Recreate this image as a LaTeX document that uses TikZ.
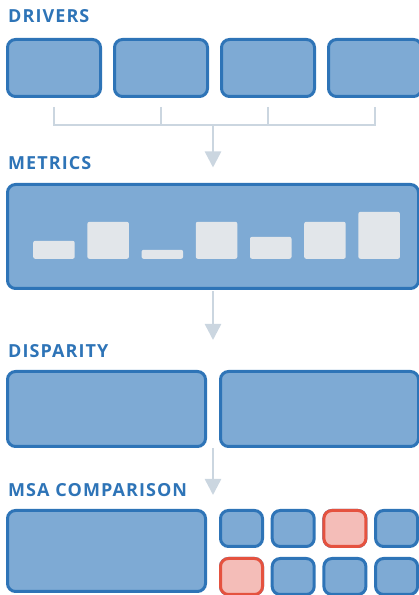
\documentclass[tikz,border=0pt]{standalone}
\usepackage{fontspec}
\usepackage{xcolor}
\usepackage{tikz}
\usetikzlibrary{arrows.meta,calc}
\newfontfamily\headfont{Open Sans}[LetterSpace=6]

\definecolor{blueline}{HTML}{2E74B7}
\definecolor{bluefill}{HTML}{7EAAD4}
\definecolor{redline}{HTML}{E5523F}
\definecolor{redfill}{HTML}{F4BDB8}
\definecolor{barfill}{HTML}{E2E6EA}
\definecolor{linkgray}{HTML}{CBD6E0}

\tikzset{
  box/.style={draw=blueline, fill=bluefill, line width=3pt, rounded corners=8pt, inner sep=0pt},
  hotbox/.style={box, draw=redline, fill=redfill},
  bar/.style={fill=barfill, rounded corners=2pt, inner sep=0pt, minimum width=41.5pt, anchor=south west},
  title/.style={anchor=base west, inner sep=0pt, text=blueline, font=\headfont\bfseries\fontsize{18}{20}\selectfont},
  link/.style={draw=linkgray, line width=2.5pt},
  flow/.style={link, -{Triangle[width=16pt,length=16pt]}}
}

\begin{document}
\begin{tikzpicture}[x=1pt, y=1pt]
        \useasboundingbox (0,0) rectangle (419,595);
        \clip (0,0) rectangle (419,595);

        % Drivers
        \node[title] (drvlabel) at (8, 572) {DRIVERS};
        \foreach \i/\x in {1/54, 2/161, 3/268, 4/375} {
            \node[box, minimum width=93pt, minimum height=57pt] (drv\i) at (\x, 527) {};
            \coordinate (tick\i) at (\x, 488);
            \coordinate (foot\i) at (\x, 470);
            \draw[link] (tick\i) -- (foot\i);
        }
        \draw[link, line cap=rect] (foot1) -- (foot4);
        \coordinate (join) at (213, 470);

        % Metrics
        \node[title] (metlabel) at (8, 425) {METRICS};
        \node[box, minimum width=411pt, minimum height=104pt] (metrics) at (213, 358.5) {};
        \foreach \i/\h in {0/18, 1/37, 2/9, 3/37, 4/22, 5/37, 6/47} {
            \node[bar, minimum height=\h pt] (bar\i) at ({33 + 54.2*\i}, 336) {};
        }
        \draw[flow] (join) -- ([yshift=15.5pt]metrics.north);

        % Disparity
        \node[title] (displabel) at (8, 237) {DISPARITY};
        \node[box, minimum width=198pt, minimum height=75pt] (disp1) at (106.5, 186) {};
        \node[box, minimum width=198pt, minimum height=75pt] (disp2) at (319.5, 186) {};
        \coordinate (tip2) at (213, 255);
        \draw[flow] ([yshift=-1.5pt]metrics.south) -- (tip2);

        % MSA comparison
        \node[title] (msalabel) at (8, 98) {MSA COMPARISON};
        \node[box, minimum width=198pt, minimum height=81pt] (msa) at (106.5, 44) {};
        \foreach \i in {0,...,3} {
            \node[box, minimum width=42pt, minimum height=36pt] (top\i) at ({241.5 + 51.7*\i}, 66.5) {};
            \node[box, minimum width=42pt, minimum height=36pt] (low\i) at ({241.5 + 51.7*\i}, 18.5) {};
        }
        \node[hotbox, minimum width=42pt, minimum height=36pt] (top2) at ({241.5 + 51.7*2}, 66.5) {};
        \node[hotbox, minimum width=42pt, minimum height=36pt] (low0) at (241.5, 18.5) {};
        \coordinate (gap) at ($(disp1.south east)!0.5!(disp2.south west)$);
        \coordinate (tip3) at (213, 100);
        \draw[flow] (gap) -- (tip3);
    \end{tikzpicture}
\end{document}
